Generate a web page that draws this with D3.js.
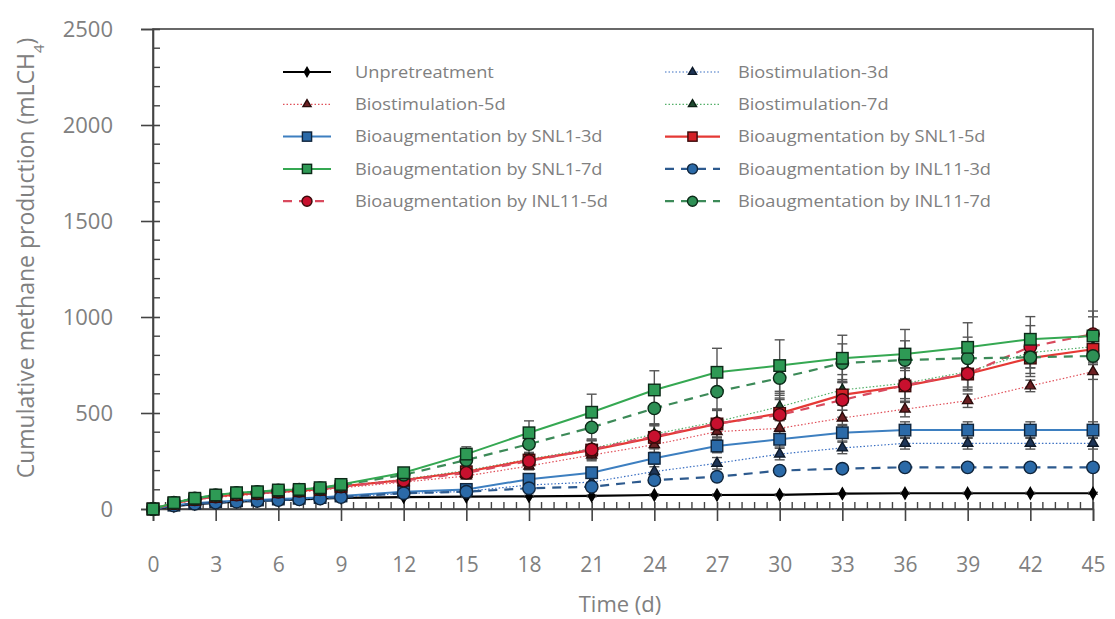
<!DOCTYPE html>
<html><head><meta charset="utf-8">
<script src="https://cdn.jsdelivr.net/npm/d3@7"></script>
<style>
body{margin:0;background:#fff;}
svg{display:block;}
text{font-family:"Open Sans","DejaVu Sans",sans-serif;}
</style></head>
<body><svg id="c" width="1115" height="619"></svg>
<script>
const days = [0,1,2,3,4,5,6,7,8,9,12,15,18,21,24,27,30,33,36,39,42,45];
const xTicks = [0,3,6,9,12,15,18,21,24,27,30,33,36,39,42,45];
const yTicks = [0,500,1000,1500,2000,2500];

const unpret     = [0,15,25,32,38,42,46,50,54,58,62,64,66,68,73,73,74,80,82,82,82,82];
const bio3       = [0,18,27,34,40,44,48,52,56,63,80,92,125,140,195,238,286,318,342,342,342,342];
const bio5       = [0,28,47,60,70,77,85,90,97,110,140,172,224,281,335,403,420,474,520,564,641,715];
const bio7       = [0,30,50,65,75,82,90,95,102,118,155,200,260,315,390,455,533,620,655,715,815,845];
const snl3       = [0,20,30,38,43,47,52,56,60,68,90,102,155,189,264,328,363,397,411,411,411,411];
const snl5       = [0,30,50,65,75,82,90,95,102,118,151,194,255,307,373,443,498,594,641,703,786,832];
const snl7       = [0,33,56,73,85,90,99,102,111,128,189,286,397,504,620,712,747,785,807,842,884,901];
const inl3       = [0,18,27,33,38,42,46,50,54,62,82,90,108,116,150,168,200,210,217,217,217,217];
const inl5       = [0,30,50,65,75,82,90,95,102,117,148,188,250,310,378,445,490,568,645,705,845,911];
const inl7       = [0,33,55,72,84,89,97,101,108,124,178,255,338,425,524,611,682,760,776,785,790,797];

const errUnpret  = [0,2,2,2,2,2,2,2,2,3,4,4,5,5,5,5,5,5,5,5,5,5];
const errBio3    = [0,3,3,3,3,3,3,3,3,5,8,10,15,20,25,30,30,30,30,30,30,30];
const errBio5    = [0,4,4,4,4,4,4,4,4,6,10,15,20,30,40,40,40,40,40,35,30,40];
const errBio7    = [0,4,4,4,4,4,4,4,4,6,10,20,30,40,50,60,70,80,80,80,80,80];
const errSnl3    = [0,3,3,3,3,3,3,3,3,5,8,10,20,25,30,35,40,43,43,43,43,43];
const errSnl5    = [0,5,5,5,5,5,5,5,5,8,12,25,40,50,60,70,80,80,80,80,80,80];
const errSnl7    = [0,8,8,8,8,8,8,8,8,10,15,38,62,94,100,125,134,120,128,128,118,100];
const errInl3    = [0,2,2,2,2,2,2,2,2,4,6,8,10,12,15,15,15,15,15,15,15,15];
const errInl5    = [0,5,5,5,5,5,5,5,5,8,12,25,40,50,60,70,80,90,90,90,110,120];
const errInl7    = [0,6,6,6,6,6,6,6,6,8,12,30,50,60,80,90,90,100,100,110,100,90];

const seriesNames = ["Unpretreatment","Biostimulation-3d","Biostimulation-5d","Biostimulation-7d",
  "Bioaugmentation by SNL1-3d","Bioaugmentation by SNL1-5d","Bioaugmentation by SNL1-7d",
  "Bioaugmentation by INL11-3d","Bioaugmentation by INL11-5d","Bioaugmentation by INL11-7d"];

const series = [
  {name:seriesNames[0], v:unpret, e:errUnpret, line:"#000", w:2.2, dash:null, shape:"diamond", fill:"#000", stroke:"#000", size:8},
  {name:seriesNames[1], v:bio3, e:errBio3, line:"#3a6fc2", w:1.2, dash:"1.5,2", shape:"triangle", fill:"#1e3557", stroke:"#0e1a2a", size:10},
  {name:seriesNames[2], v:bio5, e:errBio5, line:"#e0505a", w:1.2, dash:"1.5,2", shape:"triangle", fill:"#6b1f22", stroke:"#2a0c0c", size:10},
  {name:seriesNames[3], v:bio7, e:errBio7, line:"#55b06a", w:1.2, dash:"1.5,2", shape:"triangle", fill:"#1f4a30", stroke:"#0c2015", size:10},
  {name:seriesNames[4], v:snl3, e:errSnl3, line:"#3d7fc0", w:2, dash:null, shape:"square", fill:"#2b6aa8", stroke:"#10253c", size:11.5},
  {name:seriesNames[7], v:inl3, e:errInl3, line:"#2d5a8e", w:2.2, dash:"9,7", shape:"circle", fill:"#2b6aa8", stroke:"#10253c", size:12.5},
  {name:seriesNames[5], v:snl5, e:errSnl5, line:"#e53935", w:2.2, dash:null, shape:"square", fill:"#d42026", stroke:"#3a0a0a", size:11.5},
  {name:seriesNames[8], v:inl5, e:errInl5, line:"#d94a5e", w:2.2, dash:"9,7", shape:"circle", fill:"#c8102e", stroke:"#3a0a0a", size:12.5},
  {name:seriesNames[9], v:inl7, e:errInl7, line:"#3c8a58", w:2.2, dash:"9,7", shape:"circle", fill:"#2e8f55", stroke:"#0c2a18", size:12.5},
  {name:seriesNames[6], v:snl7, e:errSnl7, line:"#35a852", w:2, dash:null, shape:"square", fill:"#2e9a55", stroke:"#0c2a18", size:11.5}
];

const svg = d3.select("#c");
const x = d3.scaleLinear().domain([0,45]).range([153,1093]);
const y = d3.scaleLinear().domain([0,2500]).range([509,29]);

svg.append("rect").attr("x",x(0)).attr("y",y(2500)).attr("width",x(45)-x(0)).attr("height",y(0)-y(2500))
  .attr("fill","none").attr("stroke","#444").attr("stroke-width",1.6);

const yAx = svg.append("g").attr("transform",`translate(${x(0)},0)`)
  .call(d3.axisLeft(y).tickValues(yTicks).tickFormat(d3.format("d")).tickSize(12).tickPadding(28));
yAx.select(".domain").attr("stroke","#444").attr("stroke-width",1.6);
yAx.selectAll(".tick line").attr("stroke","#444").attr("stroke-width",1.6).attr("x2",-12).attr("x1",7);
yAx.selectAll(".tick text").attr("fill","#808080").style("font-size","22px");
const yMinor = d3.range(100,2500,100).filter(d=>d%500!==0);
svg.append("g").selectAll("line").data(yMinor).join("line")
  .attr("x1",x(0)).attr("x2",x(0)+7).attr("y1",d=>y(d)).attr("y2",d=>y(d))
  .attr("stroke","#444").attr("stroke-width",1.4);

const xAx = svg.append("g").attr("transform",`translate(0,${y(0)})`)
  .call(d3.axisBottom(x).tickValues(xTicks).tickSize(12).tickPadding(36));
xAx.select(".domain").attr("stroke","#444").attr("stroke-width",1.6);
xAx.selectAll(".tick line").attr("stroke","#444").attr("stroke-width",1.6).attr("y1",-7).attr("y2",12);
xAx.selectAll(".tick text").attr("fill","#808080").style("font-size","21px");
const xMinor = [];
xTicks.slice(0,-1).forEach(t=>{ for(let k=1;k<=4;k++) xMinor.push(t+k*0.6); });
svg.append("g").selectAll("line").data(xMinor).join("line")
  .attr("x1",d=>x(d)).attr("x2",d=>x(d)).attr("y1",y(0)).attr("y2",y(0)-7)
  .attr("stroke","#444").attr("stroke-width",1.4);

svg.append("text").attr("x",620).attr("y",612).attr("text-anchor","middle")
  .attr("fill","#808080").style("font-size","22px").text("Time (d)");
const yl = svg.append("text").attr("transform","translate(34,258) rotate(-90)").attr("text-anchor","middle")
  .attr("fill","#808080").style("font-size","23px");
yl.append("tspan").text("Cumulative methane production (mLCH");
yl.append("tspan").attr("baseline-shift","sub").style("font-size","15px").text("4");
yl.append("tspan").text(")");

function marker(g, shape, cx, cy, s, fill, stroke){
  let el;
  if(shape==="square") el = g.append("rect").attr("x",cx-s/2).attr("y",cy-s/2).attr("width",s).attr("height",s);
  else if(shape==="circle") el = g.append("circle").attr("cx",cx).attr("cy",cy).attr("r",s/2);
  else if(shape==="triangle") el = g.append("path").attr("d",d3.symbol(d3.symbolTriangle, s*s*0.45)()).attr("transform",`translate(${cx},${cy})`);
  else el = g.append("path").attr("d",d3.symbol(d3.symbolDiamond, s*s*0.6)()).attr("transform",`translate(${cx},${cy})`);
  el.attr("fill",fill).attr("stroke",stroke).attr("stroke-width",1.4);
}

const line = d3.line().x((d,i)=>x(days[i])).y(d=>y(d));
const plot = svg.append("g");
series.forEach(s=>{
  plot.append("path").attr("d",line(s.v)).attr("fill","none").attr("stroke",s.line)
    .attr("stroke-width",s.w).attr("stroke-dasharray",s.dash);
});
series.forEach(s=>{
  const g = plot.append("g");
  s.v.forEach((v,i)=>{
    const e = s.e[i]; if(!e) return;
    const cx = x(days[i]);
    g.append("line").attr("x1",cx).attr("x2",cx).attr("y1",y(v-e)).attr("y2",y(v+e)).attr("stroke","#555").attr("stroke-width",1.4);
    [v-e,v+e].forEach(t=>g.append("line").attr("x1",cx-5).attr("x2",cx+5).attr("y1",y(t)).attr("y2",y(t)).attr("stroke","#555").attr("stroke-width",1.4));
  });
});
series.forEach(s=>{
  const g = plot.append("g");
  s.v.forEach((v,i)=>marker(g,s.shape,x(days[i]),y(v),s.size,s.fill,s.stroke));
});

// legend: rows of [left, right] series indices
const legRows = [[0,1],[2,3],[4,6],[9,5],[7,8]];
const colX = [{l0:283,l1:331,t:355},{l0:665,l1:720,t:738}];
const leg = svg.append("g");
legRows.forEach((row,r)=>{
  const ry = 72 + r*32.3;
  row.forEach((si,c)=>{
    const s = series[si], cx = colX[c];
    leg.append("line").attr("x1",cx.l0).attr("x2",cx.l1).attr("y1",ry).attr("y2",ry)
      .attr("stroke",s.line).attr("stroke-width",s.w).attr("stroke-dasharray",s.dash);
    marker(leg,s.shape,(cx.l0+cx.l1)/2,ry,s.size*0.8,s.fill,s.stroke);
    leg.append("text").attr("transform",`translate(${cx.t},${ry}) scale(1.14,1)`).attr("dy","0.35em").attr("fill","#808080")
      .style("font-size","16px").text(s.name);
  });
});
</script></body></html>
